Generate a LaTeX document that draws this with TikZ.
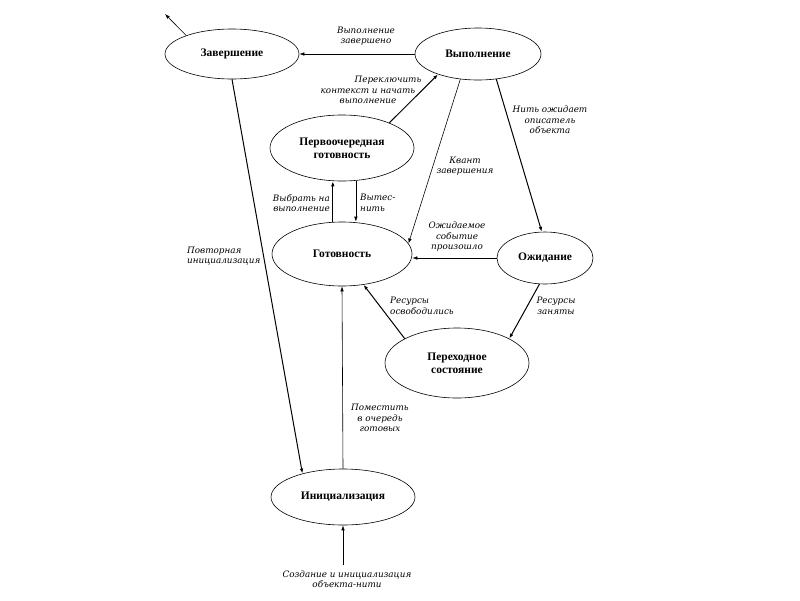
\documentclass[tikz,border=0pt]{standalone}
\usepackage{fontspec}
\setmainfont{Liberation Serif}
\newfontfamily\lblfont{DejaVu Serif}
\usetikzlibrary{arrows.meta, shapes}

\begin{document}
\begin{tikzpicture}[x=1pt, y=-1pt,
    state/.style={ellipse, draw, line width=0.6pt, inner sep=0pt, align=center,
        font=\fontsize{11.5}{13}\selectfont\bfseries},
    lbl/.style={font=\lblfont\itshape\fontsize{8.8}{10.5}\selectfont, align=center, inner sep=0pt},
    arr/.style={-{Latex[length=5pt,width=3.5pt]}, line width=0.6pt},
    arrthick/.style={arr, line width=1pt}]
                \useasboundingbox (0,0) rectangle (800,600);

                % States
                \node[state, minimum width=134pt, minimum height=50pt] (zav) at (232,54) {Завершение};
                \node[state, minimum width=126pt, minimum height=52pt] (vyp) at (478,54) {Выполнение};
                \node[state, minimum width=144pt, minimum height=66pt] (perv) at (342,148) {Первоочередная\\готовность};
                \node[state, minimum width=140pt, minimum height=64pt] (got) at (342,254) {Готовность};
                \node[state, minimum width=96pt, minimum height=52pt] (ozh) at (545,258) {Ожидание};
                \node[state, minimum width=144pt, minimum height=70pt] (perekh) at (457,363) {Переходное\\состояние};
                \node[state, minimum width=144pt, minimum height=56pt] (init) at (343,497) {Инициализация};

                % Free ends
                \coordinate (out) at (165,14);
                \coordinate (src) at (343,565);

                % Transitions
                \draw[arr] (zav.158) -- (out);
                \draw[arr] (vyp.west) -- (zav.east);
                \draw[arrthick] (perv.28) -- (vyp.207);
                \draw[arr] (vyp.235) -- (got.9);
                \draw[arrthick] (vyp.306) -- (ozh.97);
                \draw[arrthick] (got.106) -- (got.106 |- perv.south);
                \draw[arr] (perv.293) -- (perv.293 |- got.north);
                \draw[arr] (ozh.west) -- (ozh.west -| got.east);
                \draw[arrthick] (ozh.258) -- (perekh.25);
                \draw[arrthick] (perekh.155) -- (got.305);
                \draw[arrthick] (zav.south) -- (init.150);
                \draw[arr] (init.north) -- (got.south);
                \draw[arr] (src) -- (init.south);

                % Transition labels
                \node[lbl] (lblDone) at (366,36) {Выполнение\\завершено};
                \node[lbl] (lblSwitch) at (368,90) {\hspace*{40pt}Переключить\\контекст и начать\\выполнение};
                \node[lbl] (lblQuant) at (465,166) {Квант\\завершения};
                \node[lbl] (lblWait) at (550,120) {Нить ожидает\\описатель\\объекта};
                \node[lbl, align=right, anchor=east] (lblPick) at (330,203) {Выбрать на\\выполнение};
                \node[lbl, align=left, anchor=west] (lblPreempt) at (360,203) {Вытес-\\нить};
                \node[lbl] (lblEvent) at (457,237) {Ожидаемое\\событие\\произошло};
                \node[lbl, align=left, anchor=west] (lblReinit) at (187,256) {Повторная\\инициализация};
                \node[lbl, align=left, anchor=west] (lblFreed) at (390,306) {Ресурсы\\освободились};
                \node[lbl] (lblBusy) at (556,306) {Ресурсы\\заняты};
                \node[lbl] (lblQueue) at (380,418) {Поместить\\в очередь\\готовых};
                \node[lbl] (lblCreate) at (347,579) {Создание и инициализация\\объекта-нити};
            \end{tikzpicture}
\end{document}
